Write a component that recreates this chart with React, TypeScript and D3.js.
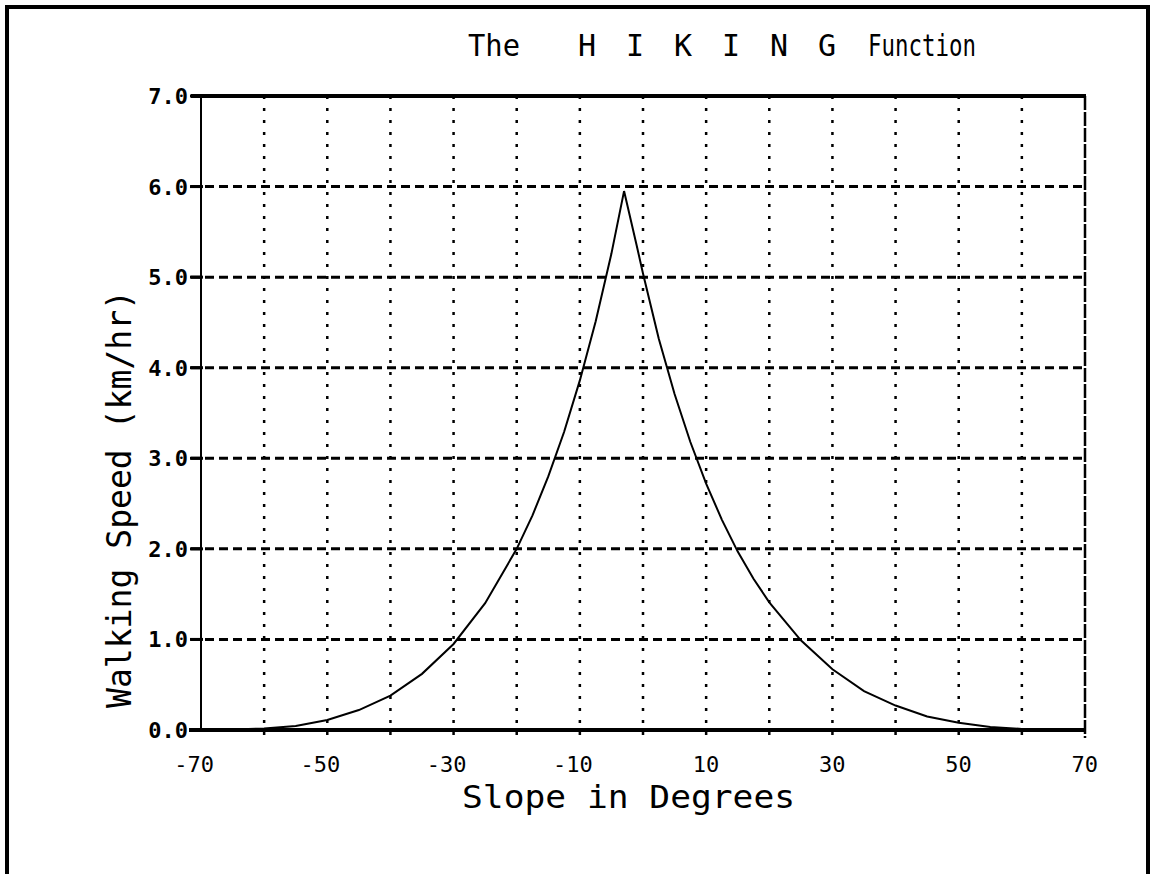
import React, { useEffect, useRef } from "react";
import * as d3 from "d3";

// slope (degrees) vs walking speed (km/hr)
const slopes = [-70, -65, -60, -55, -50, -45, -40, -35, -30, -25, -20, -17.5, -15, -12.5, -10, -7.5, -5, -3, -1, 0, 2.5, 5, 7.5, 10, 12.5, 15, 17.5, 20, 25, 30, 35, 40, 45, 50, 55, 60, 65, 70];
const speeds = [0.0, 0.005, 0.017, 0.045, 0.11, 0.22, 0.38, 0.62, 0.95, 1.4, 2.0, 2.37, 2.8, 3.29, 3.86, 4.51, 5.26, 5.95, 5.35, 5.04, 4.32, 3.71, 3.18, 2.72, 2.32, 1.97, 1.67, 1.41, 0.99, 0.67, 0.43, 0.27, 0.15, 0.08, 0.034, 0.012, 0.003, 0.0];

const gridX = [-60, -50, -40, -30, -20, -10, 0, 10, 20, 30, 40, 50, 60, 70];
const xTickLabels = [-70, -50, -30, -10, 10, 30, 50, 70];
const yTicks = [0, 1, 2, 3, 4, 5, 6, 7];

const W = 1152;
const H = 874;
const FONT = "'DejaVu Sans Mono', 'Liberation Mono', monospace";

export default function App() {
  const svgRef = useRef<SVGSVGElement>(null);

  useEffect(() => {
    const svg = d3.select(svgRef.current);
    svg.selectAll("*").remove();

    const x = d3.scaleLinear().domain([-70, 70]).range([201, 1085]);
    const y = d3.scaleLinear().domain([0, 7]).range([730, 96]);

    svg.append("rect").attr("width", W).attr("height", H).attr("fill", "#fff");

    // outer frame
    svg.append("rect")
      .attr("x", 7).attr("y", 7)
      .attr("width", 1141).attr("height", H + 20)
      .attr("fill", "none").attr("stroke", "#000").attr("stroke-width", 4);

    // horizontal dashed grid
    svg.append("g").selectAll("line")
      .data(yTicks.filter((d) => d > 0 && d < 7))
      .enter().append("line")
      .attr("x1", x(-70) - 10).attr("x2", x(70))
      .attr("y1", (d) => y(d)).attr("y2", (d) => y(d))
      .attr("stroke", "#000").attr("stroke-width", 3)
      .attr("stroke-dasharray", "9,5");

    // vertical dotted grid
    svg.append("g").selectAll("line")
      .data(gridX)
      .enter().append("line")
      .attr("x1", (d) => x(d)).attr("x2", (d) => x(d))
      .attr("y1", y(7)).attr("y2", y(0) + 8)
      .attr("stroke", "#000").attr("stroke-width", 2.5)
      .attr("stroke-dasharray", (d) => (d === 70 ? "14,2" : "3,9"));

    // left axis
    svg.append("line")
      .attr("x1", x(-70)).attr("x2", x(-70))
      .attr("y1", y(7)).attr("y2", y(0))
      .attr("stroke", "#000").attr("stroke-width", 2);

    // top and bottom thick lines
    svg.append("line")
      .attr("x1", x(-70) - 10).attr("x2", x(70) + 1)
      .attr("y1", y(7)).attr("y2", y(7))
      .attr("stroke", "#000").attr("stroke-width", 4);
    svg.append("line")
      .attr("x1", x(-70) - 12).attr("x2", x(70) + 1)
      .attr("y1", y(0)).attr("y2", y(0))
      .attr("stroke", "#000").attr("stroke-width", 4);

    // y ticks
    svg.append("g").selectAll("line")
      .data(yTicks)
      .enter().append("line")
      .attr("x1", x(-70) - 11).attr("x2", x(-70) + 2)
      .attr("y1", (d) => y(d)).attr("y2", (d) => y(d))
      .attr("stroke", "#000").attr("stroke-width", 3);

    // y tick labels
    svg.append("g").selectAll("text")
      .data(yTicks)
      .enter().append("text")
      .attr("x", x(-70) - 13)
      .attr("y", (d) => y(d) + 8)
      .attr("text-anchor", "end")
      .attr("font-family", FONT)
      .attr("font-size", 22)
      .attr("font-weight", "bold")
      .text((d) => d3.format(".1f")(d));

    // x tick labels
    svg.append("g").selectAll("text")
      .data(xTickLabels)
      .enter().append("text")
      .attr("x", (d) => x(d) + 13)
      .attr("y", 772)
      .attr("text-anchor", "end")
      .attr("font-family", FONT)
      .attr("font-size", 22)
      .text((d) => (d < 0 ? "-" + Math.abs(d) : String(d)));

    // curve
    const pts = slopes.map((s, i) => [s, speeds[i]] as [number, number]);
    const line = d3.line<[number, number]>()
      .x((d) => x(d[0]))
      .y((d) => y(d[1]))
      .curve(d3.curveLinear);
    svg.append("path")
      .datum(pts)
      .attr("d", line)
      .attr("fill", "none")
      .attr("stroke", "#000")
      .attr("stroke-width", 2);

    // title
    const title = svg.append("g")
      .attr("font-family", FONT)
      .attr("font-size", 30);
    title.append("text").attr("x", 468).attr("y", 56)
      .attr("textLength", 52).attr("lengthAdjust", "spacingAndGlyphs").text("The");
    title.append("text").attr("x", 578).attr("y", 56)
      .attr("textLength", 258).attr("lengthAdjust", "spacing").text("H I K I N G");
    title.append("text").attr("x", 868).attr("y", 56)
      .attr("textLength", 108).attr("lengthAdjust", "spacingAndGlyphs").text("Function");

    // axis titles
    svg.append("text")
      .attr("x", 462).attr("y", 808)
      .attr("font-family", FONT).attr("font-size", 32)
      .attr("textLength", 333).attr("lengthAdjust", "spacingAndGlyphs")
      .text("Slope in Degrees");

    svg.append("text")
      .attr("transform", "translate(131,708) rotate(-90)")
      .attr("font-family", FONT).attr("font-size", 34)
      .attr("textLength", 418).attr("lengthAdjust", "spacingAndGlyphs")
      .text("Walking Speed (km/hr)");
  }, []);

  return (
    <svg
      ref={svgRef}
      width={W}
      height={H}
      style={{ position: "absolute", left: 0, top: 0, display: "block" }}
    />
  );
}
